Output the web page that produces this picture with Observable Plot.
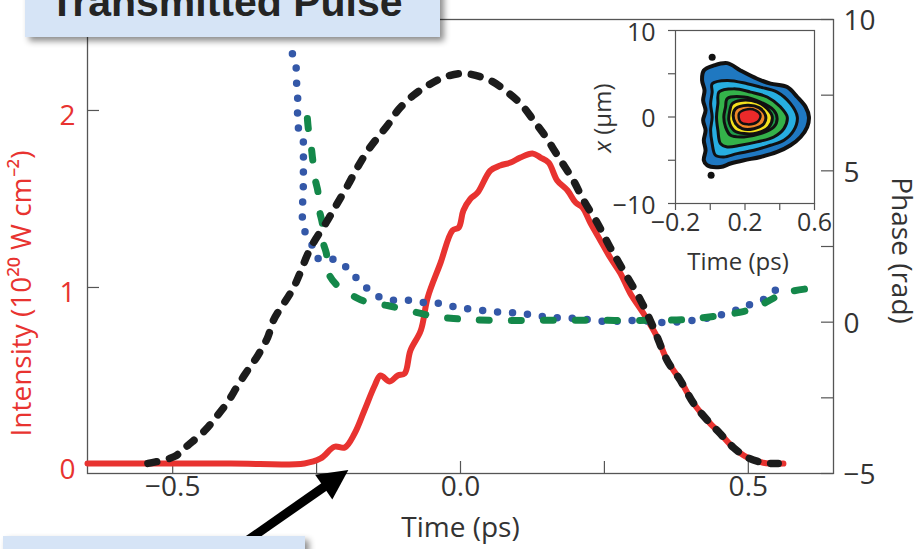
<!DOCTYPE html>
<html><head><meta charset="utf-8">
<script src="https://cdn.jsdelivr.net/npm/d3@7"></script>
<script src="https://cdn.jsdelivr.net/npm/@observablehq/plot@0.6"></script>
<style>
html,body{margin:0;padding:0;background:#fff;}
#wrap{position:relative;width:922px;height:549px;overflow:hidden;font-family:"Open Sans",sans-serif;}
#wrap svg{position:absolute;left:0;top:0;overflow:visible;}
</style></head><body><div id="wrap"></div>
<script>
// ---------- data ----------
const timeTicks = [-0.5, -0.25, 0, 0.25, 0.5];
const timeLabels = [-0.5, 0, 0.5];
const intensityTicks = [0, 1, 2];
const phaseTicks = [-5, -2.5, 0, 2.5, 5, 7.5, 10];
const phaseLabels = [-5, 0, 5, 10];
const timeDomain = [-0.648, 0.648];
const intensityDomain = [-0.051, 2.514];
const phaseDomain = [-5, 10];

// measured transmitted intensity (red), [time ps, intensity 1e20 W/cm2]
const measuredIntensity = [
  [-0.648,0.005],[-0.40,0.005],[-0.271,0.006],[-0.243,0.034],[-0.219,0.10],[-0.201,0.096],
  [-0.184,0.175],[-0.167,0.305],[-0.149,0.446],[-0.139,0.503],[-0.123,0.469],[-0.109,0.503],
  [-0.097,0.514],[-0.087,0.644],[-0.069,0.757],[-0.057,0.943],[-0.035,1.136],[-0.014,1.322],
  [-0.003,1.339],[0.005,1.435],[0.017,1.50],[0.030,1.537],[0.052,1.661],[0.069,1.689],
  [0.087,1.706],[0.104,1.734],[0.125,1.757],[0.139,1.734],[0.153,1.706],[0.168,1.605],
  [0.186,1.548],[0.200,1.480],[0.212,1.452],[0.226,1.362],[0.243,1.266],[0.260,1.169],
  [0.278,1.079],[0.295,0.966],[0.318,0.853],[0.342,0.718],[0.359,0.588],[0.382,0.475],
  [0.405,0.345],[0.429,0.249],[0.451,0.175],[0.474,0.096],[0.498,0.040],[0.526,0.010],[0.561,0.005]
];
// reference pulse (black dashed)
const referencePulse = [
  [-0.543,0.006],[-0.497,0.045],[-0.474,0.107],[-0.444,0.192],[-0.425,0.266],[-0.405,0.350],
  [-0.387,0.446],[-0.370,0.531],[-0.352,0.616],[-0.335,0.718],[-0.325,0.814],[-0.290,1.000],
  [-0.260,1.226],[-0.231,1.379],[-0.214,1.475],[-0.196,1.576],[-0.179,1.678],[-0.161,1.774],
  [-0.144,1.847],[-0.127,1.915],[-0.109,2.000],[-0.082,2.085],[-0.057,2.141],[-0.030,2.186],
  [0.005,2.209],[0.052,2.169],[0.082,2.102],[0.104,2.040],[0.127,1.944],[0.144,1.870],
  [0.174,1.718],[0.196,1.605],[0.214,1.492],[0.238,1.362],[0.260,1.226],[0.283,1.096],
  [0.313,0.927],[0.335,0.774],[0.359,0.588],[0.382,0.475],[0.405,0.345],[0.429,0.249],
  [0.451,0.175],[0.474,0.096],[0.498,0.040],[0.526,0.010],[0.552,0.005]
];
// phase (blue dotted), [time ps, phase rad]
const phaseBlue = [
  [-0.292,8.87],[-0.286,8.48],[-0.285,7.98],[-0.283,7.49],[-0.283,6.99],[-0.283,6.50],
  [-0.274,6.10],[-0.273,5.67],[-0.273,4.62],[-0.273,3.13],[-0.264,2.80],[-0.255,2.43],
  [-0.247,2.10],[-0.231,2.10],[-0.214,2.04],[-0.196,1.77],[-0.182,1.48],[-0.168,1.21],
  [-0.153,0.98],[-0.139,0.82],[-0.116,0.72],[-0.090,0.72],[-0.064,0.65],[-0.038,0.62],
  [-0.014,0.52],[0.009,0.45],[0.056,0.35],[0.104,0.29],[0.153,0.16],[0.203,0.12],
  [0.255,0.02],[0.307,0.06],[0.356,-0.01],[0.425,0.12],[0.472,0.35],[0.498,0.55],
  [0.524,0.72],[0.538,0.95],[0.556,1.15]
];
// phase (green dashed)
const phaseGreen = [
  [-0.266,6.73],[-0.264,6.33],[-0.259,5.74],[-0.257,5.41],[-0.252,4.68],[-0.248,4.35],
  [-0.245,3.69],[-0.240,3.26],[-0.238,2.60],[-0.233,2.27],[-0.229,1.61],[-0.214,1.21],
  [-0.182,0.82],[-0.160,0.65],[-0.127,0.55],[-0.104,0.45],[-0.069,0.29],[-0.047,0.19],
  [-0.012,0.12],[0.012,0.09],[0.069,0.06],[0.151,0.06],[0.238,0.06],[0.325,0.06],
  [0.394,0.09],[0.439,0.19],[0.491,0.35],[0.509,0.45],[0.550,0.85],[0.568,0.99],[0.604,1.11]
];
// annotation arrow, [time, intensity] tail -> tip
const arrowTime = [-0.408, -0.194];
const arrowIntensity = [-0.52, -0.034];

// inset contour levels, [time ps, x µm]
const insetTicksX = [-0.2, 0, 0.2, 0.4, 0.6];
const insetLabelsX = [-0.2, 0.2, 0.6];
const insetTicksY = [-10, -5, 0, 5, 10];
const insetLabelsY = [-10, 0, 10];
const contourBlue = [[-0.037,5.38],[0.021,5.96],[0.098,6.23],[0.174,5.38],[0.270,4.42],[0.347,3.85],[0.443,3.46],[0.501,2.31],[0.549,1.15],[0.568,0],[0.558,-1.15],[0.520,-2.31],[0.462,-3.27],[0.385,-4.04],[0.289,-4.62],[0.194,-5.0],[0.117,-5.38],[0.059,-5.77],[-0.018,-5.58],[-0.037,-5.0],[-0.027,-3.85],[-0.037,-2.69],[-0.027,-1.54],[-0.041,-0.38],[-0.027,0.77],[-0.041,1.92],[-0.033,3.08],[-0.047,4.23]];
const contourCyan = [[0.011,3.85],[0.098,4.23],[0.213,3.85],[0.289,3.46],[0.385,2.88],[0.462,1.54],[0.501,0],[0.481,-1.54],[0.424,-2.69],[0.347,-3.27],[0.251,-3.85],[0.155,-4.23],[0.078,-4.62],[0.030,-4.42],[0.011,-3.08],[0.002,-1.54],[0.011,0],[0.002,1.54],[0.011,2.88]];
const contourGreen = [[0.050,2.88],[0.136,3.27],[0.232,2.88],[0.328,2.31],[0.405,1.15],[0.443,0],[0.424,-1.35],[0.366,-2.31],[0.270,-2.88],[0.174,-3.27],[0.098,-3.46],[0.059,-3.08],[0.044,-1.54],[0.036,0],[0.044,1.54]];
const contourGreen2 = [[0.098,2.12],[0.194,2.31],[0.289,1.73],[0.366,0.77],[0.385,-0.19],[0.366,-1.15],[0.289,-1.92],[0.194,-2.31],[0.117,-2.12],[0.088,-1.15],[0.078,0],[0.088,1.15]];
const contourYellow = [[0.126,1.54],[0.174,1.92],[0.270,1.73],[0.328,0.96],[0.357,0],[0.337,-1.15],[0.270,-1.85],[0.194,-1.92],[0.136,-1.54],[0.107,-0.38],[0.113,0.77]];
const contourOrange = [[0.146,0.96],[0.213,1.35],[0.280,1.08],[0.318,0.19],[0.309,-0.77],[0.251,-1.35],[0.184,-1.35],[0.146,-0.77],[0.132,0.19]];
const contourRed = [[0.165,0.38],[0.203,0.85],[0.261,0.77],[0.289,0.19],[0.270,-0.58],[0.213,-0.85],[0.174,-0.58]];
const insetSpots = [[0.011,6.92],[0.005,-6.73]];

// ---------- drawing ----------
const W = 922, H = 549, mL = 87, mR = 89, mT = 19, mB = 76;
const frameW = W - mL - mR, frameH = H - mT - mB;
const FONT = "Open Sans, sans-serif";
const RED = "#e83330", AXIS = "#555", TXT = "#333";
const FS = 28, IFS = 25;
const phaseToI = p => intensityDomain[0] + (p - phaseDomain[0]) / (phaseDomain[1] - phaseDomain[0]) * (intensityDomain[1] - intensityDomain[0]);
const fmt1 = d => (d < 0 ? "\u2212" : "") + Math.abs(d).toFixed(1);
const fmt0 = d => (d < 0 ? "\u2212" : "") + Math.abs(d);

const plot = Plot.plot({
  width: W, height: H, marginLeft: mL, marginRight: mR, marginTop: mT, marginBottom: mB,
  x: {domain: timeDomain, axis: null},
  y: {domain: intensityDomain, axis: null},
  style: {background: "transparent", fontFamily: FONT, overflow: "visible"},
  marks: [
    Plot.frame({stroke: AXIS, strokeWidth: 1.3}),
    Plot.tickX(timeTicks, {x: d => d, insetTop: frameH - 12, stroke: AXIS, strokeWidth: 1.2}),
    Plot.tickY(intensityTicks, {y: d => d, insetRight: frameW - 12, stroke: AXIS, strokeWidth: 1.2}),
    Plot.tickY(phaseTicks, {y: d => phaseToI(d), insetLeft: frameW - 12, stroke: AXIS, strokeWidth: 1.2}),
    Plot.line(measuredIntensity, {x: d => d[0], y: d => d[1], stroke: RED, strokeWidth: 6, curve: "catmull-rom", strokeLinejoin: "round"}),
    Plot.line(phaseBlue, {x: d => d[0], y: d => phaseToI(d[1]), stroke: "#3458a8", strokeWidth: 7.5, strokeDasharray: "0 15", strokeLinecap: "round", curve: "catmull-rom"}),
    Plot.line(phaseGreen, {x: d => d[0], y: d => phaseToI(d[1]), stroke: "#14884a", strokeWidth: 7, strokeDasharray: "10 22", strokeLinecap: "round", curve: "catmull-rom"}),
    Plot.line(referencePulse, {x: d => d[0], y: d => d[1], stroke: "#1c1c1c", strokeWidth: 7.5, strokeDasharray: "9 13", strokeLinecap: "round", curve: "catmull-rom"}),
    Plot.text(timeLabels, {x: d => d, text: fmt1, frameAnchor: "bottom", dy: 22, fontSize: FS, fill: TXT}),
    Plot.text(intensityTicks, {y: d => d, text: d => String(d), frameAnchor: "left", dx: -12, dy: 6, textAnchor: "end", fontSize: FS, fill: RED}),
    Plot.text(phaseLabels, {y: d => phaseToI(d), text: fmt0, frameAnchor: "right", dx: 10, dy: 2, textAnchor: "start", fontSize: FS, fill: TXT}),
    Plot.text(["Time (ps)"], {text: d => d, frameAnchor: "bottom", dy: 63, textAnchor: "middle", fontSize: FS, fill: TXT}),
    Plot.text(["Intensity (10\u00B2\u2070 W cm\u207B\u00B2)"], {text: d => d, frameAnchor: "left", dx: -65, dy: 47, rotate: -90, textAnchor: "middle", fontSize: FS, fill: RED}),
    Plot.text(["Phase (rad)"], {text: d => d, frameAnchor: "right", dx: 67, dy: 4, rotate: 90, textAnchor: "middle", fontSize: FS, fill: TXT})
  ]
});
document.getElementById("wrap").appendChild(plot);

// inset
const iW = 232, iH = 290, iL = 85, iR = 8, iT = 30, iB = 87;
const iFrameW = iW - iL - iR, iFrameH = iH - iT - iB;
const contourMark = (data, color, sw) => Plot.line(data, {x: d => d[0], y: d => d[1], fill: color, stroke: "#111", strokeWidth: sw, curve: "catmull-rom-closed", strokeLinejoin: "round"});
const inset = Plot.plot({
  width: iW, height: iH, marginLeft: iL, marginRight: iR, marginTop: iT, marginBottom: iB,
  x: {domain: [-0.2, 0.6], axis: null},
  y: {domain: [-10, 10], axis: null},
  style: {background: "transparent", fontFamily: FONT, overflow: "visible"},
  marks: [
    contourMark(contourBlue, "#1f78c1", 4),
    contourMark(contourCyan, "#27aee0", 3),
    contourMark(contourGreen, "#34b24a", 3),
    contourMark(contourGreen2, "#1f9b48", 3),
    contourMark(contourYellow, "#f3e11e", 3),
    contourMark(contourOrange, "#f08828", 3),
    contourMark(contourRed, "#ec2a2a", 2.5),
    Plot.dot(insetSpots, {x: d => d[0], y: d => d[1], r: 3.5, fill: "#111"}),
    Plot.frame({stroke: AXIS, strokeWidth: 1.2}),
    Plot.tickX(insetTicksX, {x: d => d, insetTop: iFrameH, insetBottom: -7, stroke: AXIS, strokeWidth: 1.2}),
    Plot.tickY(insetTicksY, {y: d => d, insetRight: iFrameW, insetLeft: -7, stroke: AXIS, strokeWidth: 1.2}),
    Plot.text(insetLabelsX, {x: d => d, text: fmt1, frameAnchor: "bottom", dy: 27, fontSize: IFS, fill: TXT}),
    Plot.text(insetLabelsY, {y: d => d, text: fmt0, frameAnchor: "left", dx: -20, dy: 2, textAnchor: "end", fontSize: IFS, fill: TXT}),
    Plot.text(["Time (ps)"], {text: d => d, frameAnchor: "bottom", dy: 66, dx: -7, textAnchor: "middle", fontSize: 24, fill: TXT}),
    Plot.text(["x (\u03BCm)"], {text: d => d, frameAnchor: "left", dx: -72, dy: 1, rotate: -90, textAnchor: "middle", fontSize: 24, fill: TXT})
  ]
});
inset.style.left = "590px";
inset.style.top = "0px";
document.getElementById("wrap").appendChild(inset);
// italic x in inset label
inset.querySelectorAll("text").forEach(t => {
  if (t.textContent === "x (\u03BCm)") {
    t.textContent = "";
    const a = document.createElementNS("http://www.w3.org/2000/svg", "tspan");
    a.setAttribute("font-style", "italic"); a.textContent = "x";
    const b = document.createElementNS("http://www.w3.org/2000/svg", "tspan");
    b.textContent = " (\u03BCm)";
    t.appendChild(a); t.appendChild(b);
  }
});

// annotation overlay: title box, arrow, bottom box
const sx = plot.scale("x"), sy = plot.scale("y");
const x0 = sx.apply(arrowTime[0]), y0 = sy.apply(arrowIntensity[0]);
const x1 = sx.apply(arrowTime[1]), y1 = sy.apply(arrowIntensity[1]);
const ov = d3.create("svg").attr("width", W).attr("height", H);
const defs = ov.append("defs");
const f = defs.append("filter").attr("id", "sh").attr("x", "-10%").attr("y", "-30%").attr("width", "130%").attr("height", "180%");
f.append("feDropShadow").attr("dx", 4).attr("dy", 4).attr("stdDeviation", 3).attr("flood-color", "#000").attr("flood-opacity", 0.45);
// arrow
const L = Math.hypot(x1 - x0, y1 - y0), ux = (x1 - x0) / L, uy = (y1 - y0) / L;
const hl = 30, hw = 15;
const bx = x1 - hl * ux, by = y1 - hl * uy;
ov.append("line").attr("x1", x0).attr("y1", y0).attr("x2", bx + 2 * ux).attr("y2", by + 2 * uy)
  .attr("stroke", "#000").attr("stroke-width", 9);
ov.append("path").attr("d", `M${x1},${y1}L${bx - hw * uy},${by + hw * ux}L${bx + hw * uy},${by - hw * ux}Z`).attr("fill", "#000");
// title box
ov.append("rect").attr("x", 25).attr("y", -12).attr("width", 415).attr("height", 49).attr("fill", "#d6e4f6").attr("filter", "url(#sh)");
ov.append("text").attr("x", 226).attr("y", 16).attr("text-anchor", "middle")
  .attr("font-family", "Liberation Sans, Arial, sans-serif").attr("font-weight", "bold").attr("font-size", 41).attr("fill", "#242424")
  .text("Transmitted Pulse");
// bottom box
ov.append("rect").attr("x", 3).attr("y", 536).attr("width", 302).attr("height", 30).attr("fill", "#d6e4f6").attr("filter", "url(#sh)");
document.getElementById("wrap").appendChild(ov.node());
</script></body></html>
